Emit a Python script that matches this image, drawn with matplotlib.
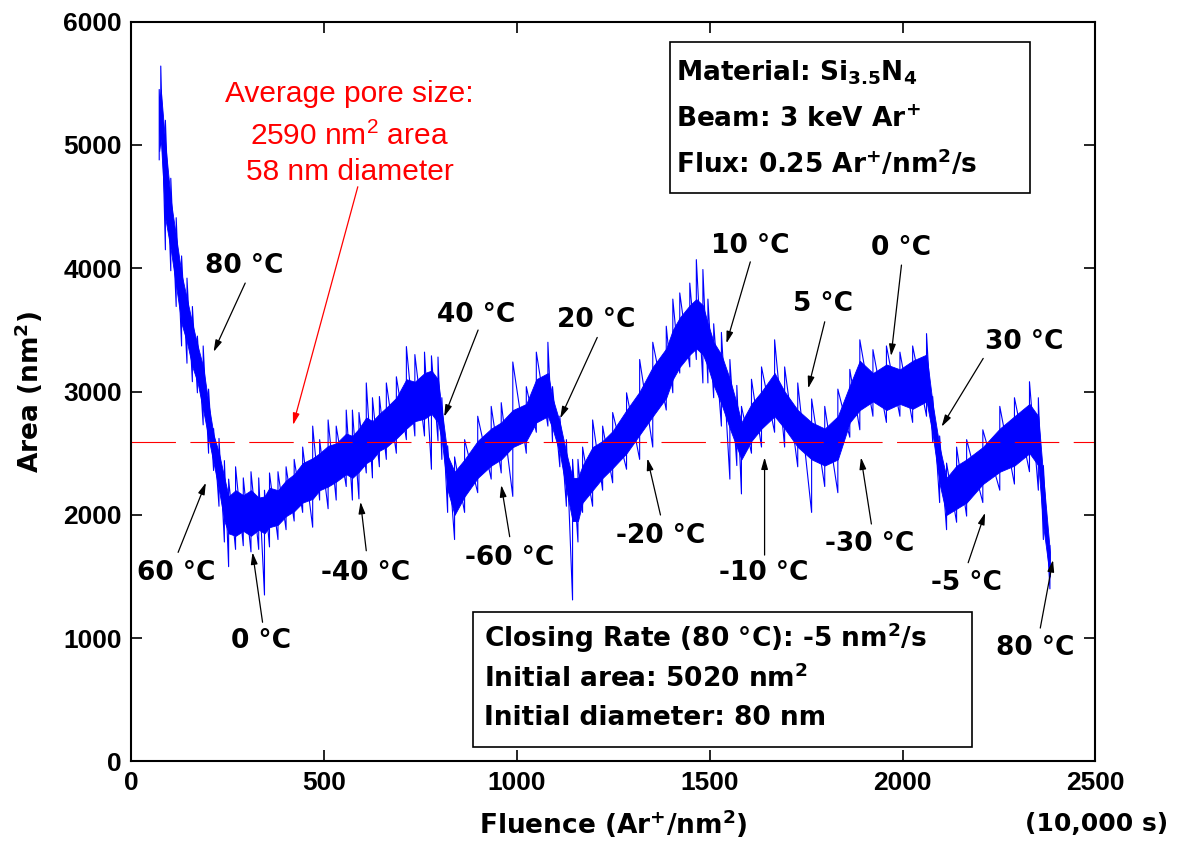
import numpy as np
import matplotlib
matplotlib.use("Agg")
import matplotlib.pyplot as plt
from matplotlib.patches import Rectangle

plt.rcParams["font.family"] = ["Liberation Sans", "DejaVu Sans"]
plt.rcParams["font.weight"] = "bold"
plt.rcParams["mathtext.fontset"] = "dejavusans"

# data: fluence (Ar+/nm2), outer spike range and dense core band (nm2)
fluence = [72, 76, 88, 102, 116, 130, 144, 158, 171, 186, 200, 213, 227, 241, 252, 270, 290, 310,
           330, 345, 358, 380, 401, 422, 444, 470, 488, 510, 531, 557, 573, 590, 609, 625, 643,
           661, 687, 713, 735, 760, 778, 795, 805, 820, 838, 864, 898, 933, 959, 989, 1024, 1050,
           1080, 1092, 1111, 1128, 1144, 1158, 1170, 1196, 1222, 1248, 1284, 1318, 1352, 1387,
           1404, 1422, 1448, 1465, 1482, 1495, 1510, 1530, 1552, 1570, 1582, 1608, 1634, 1668,
           1694, 1728, 1764, 1798, 1832, 1863, 1889, 1923, 1958, 1993, 2026, 2062, 2078, 2096,
           2114, 2140, 2166, 2208, 2252, 2290, 2329, 2352, 2365, 2382]
outer_lo = [4880, 5000, 4150, 3980, 3690, 3370, 3230, 3080, 2990, 2730, 2500, 2360, 2070, 1780,
            1580, 1720, 1750, 1700, 1720, 1350, 1740, 1800, 1880, 1950, 2020, 1900, 2120, 2050,
            2120, 2230, 2120, 2130, 2340, 2300, 2390, 2450, 2500, 2610, 2640, 2640, 2370, 2600,
            2450, 2020, 1800, 2020, 2180, 2290, 2340, 2150, 2500, 2670, 2720, 2590, 2390, 2070,
            1310, 1780, 2020, 2070, 2200, 2260, 2370, 2450, 2550, 2850, 2990, 3150, 3200, 3260,
            3070, 3070, 2950, 2720, 2290, 2400, 2170, 2500, 2550, 2670, 2550, 2390, 2020, 2230,
            2180, 2630, 2690, 2800, 2750, 2800, 2750, 2800, 2590, 2100, 1880, 1940, 1990, 2100,
            2200, 2250, 2350, 2200, 1800, 1400]
outer_hi = [5450, 5640, 5200, 4730, 4410, 4100, 3920, 3690, 3450, 3370, 3020, 2700, 2620, 2440,
            2290, 2390, 2300, 2350, 2300, 2200, 2340, 2350, 2390, 2450, 2550, 2720, 2610, 2770,
            2720, 2850, 2850, 2830, 3070, 2950, 2960, 3070, 3120, 3365, 3300, 3320, 3290, 3280,
            2950, 2560, 2470, 2610, 2800, 2880, 2910, 3240, 3040, 3320, 3400, 3040, 2800, 2610,
            2450, 2450, 2550, 2770, 2720, 2830, 2990, 3260, 3400, 3530, 3750, 3800, 3880, 4070,
            3990, 3750, 3550, 3480, 3260, 3050, 2880, 3100, 3200, 3420, 3200, 3070, 2940, 2880,
            3020, 3180, 3420, 3340, 3370, 3320, 3370, 3470, 2960, 2640, 2420, 2550, 2610, 2690,
            2880, 2950, 3080, 2950, 2400, 1750]
core_lo = [4950, 5050, 4400, 4150, 3850, 3550, 3400, 3200, 3080, 2850, 2620, 2420, 2200, 1950,
           1850, 1830, 1870, 1830, 1880, 1850, 1900, 1920, 1990, 2030, 2100, 2130, 2200, 2230,
           2270, 2330, 2300, 2350, 2420, 2450, 2520, 2550, 2620, 2700, 2760, 2780, 2820, 2750,
           2600, 2200, 2000, 2150, 2300, 2400, 2450, 2550, 2600, 2750, 2800, 2700, 2500, 2200,
           1950, 1950, 2100, 2200, 2300, 2380, 2500, 2650, 2800, 2950, 3100, 3200, 3300, 3350,
           3300, 3200, 3050, 2900, 2700, 2550, 2450, 2600, 2700, 2800, 2700, 2550, 2450, 2400,
           2450, 2750, 2850, 2920, 2850, 2900, 2860, 2920, 2650, 2250, 2000, 2050, 2100, 2250,
           2350, 2400, 2500, 2400, 1900, 1500]
core_hi = [5350, 5450, 5000, 4550, 4250, 3950, 3750, 3550, 3380, 3200, 2900, 2650, 2500, 2300,
           2150, 2200, 2160, 2200, 2140, 2150, 2220, 2200, 2280, 2330, 2420, 2460, 2500, 2560,
           2580, 2660, 2640, 2700, 2790, 2760, 2820, 2870, 2950, 3100, 3080, 3150, 3170, 3100,
           2850, 2480, 2350, 2450, 2600, 2700, 2750, 2850, 2900, 3100, 3150, 2950, 2750, 2500,
           2300, 2300, 2400, 2550, 2600, 2680, 2850, 3000, 3200, 3350, 3500, 3600, 3700, 3750,
           3700, 3550, 3400, 3300, 3100, 2900, 2750, 2900, 3000, 3150, 3000, 2850, 2750, 2700,
           2800, 3050, 3250, 3150, 3220, 3180, 3250, 3300, 2900, 2550, 2300, 2400, 2450, 2550,
           2700, 2800, 2900, 2800, 2300, 1700]

avg_area = 2590

# (label, text position, arrow tail, arrow tip) in data units
temp_labels = [
    ("80 °C", (293, 4017), (295, 3880), (213, 3322)),
    ("60 °C", (115, 1532), (121, 1696), (193, 2261)),
    ("0 °C", (336, 977), (340, 1129), (314, 1696)),
    ("-40 °C", (606, 1532), (609, 1709), (594, 2106)),
    ("40 °C", (894, 3620), (899, 3499), (811, 2796)),
    ("-60 °C", (981, 1648), (981, 1823), (959, 2242)),
    ("20 °C", (1206, 3580), (1208, 3439), (1112, 2783)),
    ("-20 °C", (1372, 1830), (1372, 1999), (1338, 2458)),
    ("10 °C", (1606, 4181), (1605, 4052), (1543, 3391)),
    ("5 °C", (1794, 3709), (1798, 3566), (1755, 3026)),
    ("0 °C", (1995, 4168), (1997, 4026), (1970, 3288)),
    ("30 °C", (2315, 3401), (2209, 3269), (2101, 2715)),
    ("-10 °C", (1640, 1526), (1642, 1674), (1642, 2466)),
    ("-30 °C", (1915, 1763), (1919, 1926), (1892, 2466)),
    ("-5 °C", (2166, 1451), (2170, 1612), (2214, 2017)),
    ("80 °C", (2344, 920), (2357, 1082), (2390, 1634)),
]

wide = ["DejaVu Sans"]

fig = plt.figure(figsize=(11.79, 8.43), dpi=100)
ax = fig.add_axes([0.1115, 0.0967, 0.8176, 0.8776])

f = np.array(fluence)
ax.fill_between(f, core_lo, core_hi, color="#0000ff", lw=0.6, ec="#0000ff")
# noisy trace: each reading drawn from its low to its high value, then on to the next reading
ax.plot(np.repeat(f, 2), np.column_stack([outer_lo, outer_hi]).ravel(), color="#0000ff", lw=0.8)

ax.axhline(avg_area, color="red", lw=0.8, dashes=(40, 13))

for lab, txt, tail, tip in temp_labels:
    ax.annotate("", xy=tip, xytext=tail,
                arrowprops=dict(arrowstyle="-|>,head_length=0.7,head_width=0.2",
                                color="black", lw=0.9, shrinkA=0, shrinkB=0))
    ax.text(txt[0], txt[1], lab, ha="center", va="center", fontsize=19,
            fontweight="bold", family=wide)

# red annotation for the average pore size
red_kw = dict(color="red", fontsize=21.5, fontweight="normal", ha="center", va="baseline")
ax.text(566, 5350, "Average pore size:", **red_kw)
ax.text(566, 4998, r"2590 nm$^{\mathregular{2}}$ area", **red_kw)
ax.text(566, 4715, "58 nm diameter", **red_kw)
ax.annotate("", xy=(419, 2729), xytext=(587, 4661),
            arrowprops=dict(arrowstyle="-|>,head_length=0.7,head_width=0.2",
                            color="red", lw=0.9, shrinkA=0, shrinkB=0))

# info boxes
box_kw = dict(transform=ax.transAxes, fontsize=19, fontweight="bold", family=wide, va="baseline")
ax.add_patch(Rectangle((0.5586, 0.7685), 0.3735, 0.2045, transform=ax.transAxes,
                       fill=False, ec="black", lw=1.2, zorder=5))
ax.text(0.5649, 0.9198, r"Material: Si$_{\mathbf{3.5}}$N$_{\mathbf{4}}$", **box_kw)
ax.text(0.5649, 0.8576, r"Beam: 3 keV Ar$^{\mathbf{+}}$", **box_kw)
ax.text(0.5649, 0.7955, r"Flux: 0.25 Ar$^{\mathbf{+}}$/nm$^{\mathbf{2}}$/s", **box_kw)

ax.add_patch(Rectangle((0.3543, 0.02), 0.5176, 0.1825, transform=ax.transAxes,
                       fill=False, ec="black", lw=1.2, zorder=5))
ax.text(0.3657, 0.1552, r"Closing Rate (80 °C): -5 nm$^{\mathbf{2}}$/s", **box_kw)
ax.text(0.3657, 0.1011, r"Initial area: 5020 nm$^{\mathbf{2}}$", **box_kw)
ax.text(0.3657, 0.0493, "Initial diameter: 80 nm", **box_kw)

ax.set_xlim(0, 2500)
ax.set_ylim(0, 6000)
ax.set_xticks([0, 500, 1000, 1500, 2000, 2500])
ax.set_yticks([0, 1000, 2000, 3000, 4000, 5000, 6000])
ax.tick_params(direction="in", length=8, width=1.2, top=True, right=True, labelsize=19, pad=7)
for s in ax.spines.values():
    s.set_linewidth(1.5)

ax.set_xlabel(r"Fluence (Ar$^{\mathbf{+}}$/nm$^{\mathbf{2}}$)", fontsize=19, fontweight="bold",
              family=wide)
ax.set_ylabel(r"Area (nm$^{\mathbf{2}}$)", fontsize=19, fontweight="bold", family=wide)
ax.xaxis.set_label_coords(0.5, -0.062)
ax.yaxis.set_label_coords(-0.09, 0.5)
fig.text(0.991, 0.037, "(10,000 s)", ha="right", va="top", fontsize=18, fontweight="bold",
         family=wide)

fig.savefig("out.png", dpi=100)
